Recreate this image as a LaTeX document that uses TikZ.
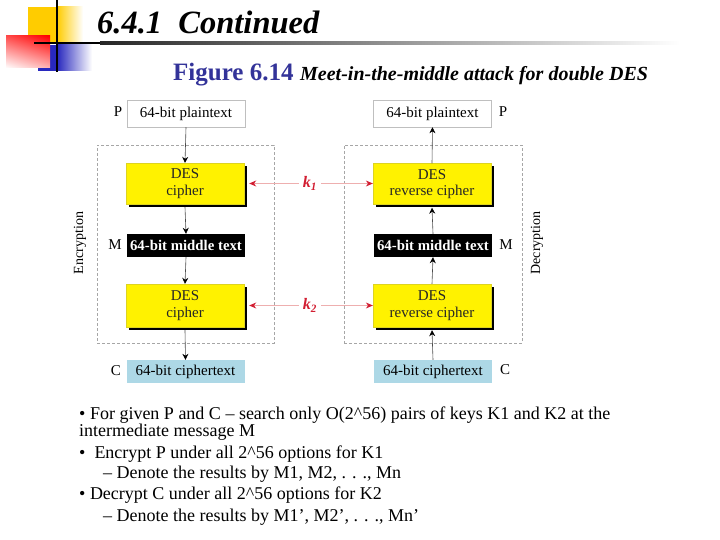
\documentclass[tikz,border=0pt]{standalone}
\usepackage{fontspec}
\setmainfont{Liberation Serif}
\usetikzlibrary{arrows.meta,calc,shadings}
\definecolor{navy}{RGB}{51,51,153}
\definecolor{keyred}{RGB}{210,30,50}
\definecolor{keyline}{RGB}{238,175,175}
\definecolor{ltblue}{RGB}{173,216,230}
\definecolor{gold}{RGB}{255,204,0}
\definecolor{logoblue}{RGB}{40,40,190}
\begin{document}
\begin{tikzpicture}[x=1pt,y=-1pt,
  f15/.style={font=\fontsize{15}{17}\selectfont},
  plainbox/.style={draw=gray!50, line width=0.5pt, fill=white, minimum width=118, minimum height=27, inner sep=0, f15},
  desbox/.style={fill=yellow, draw=yellow!85!black, line width=0.3pt, minimum width=118, minimum height=42, inner sep=0, align=center, font=\fontsize{15}{16.5}\selectfont, text=black!85},
  shadowbox/.style={fill=black, minimum width=118, minimum height=42, inner sep=0},
  midbox/.style={fill=black, text=white, minimum width=118, minimum height=23, inner sep=0, font=\fontsize{14.8}{17}\selectfont\bfseries},
  cbox/.style={fill=ltblue, minimum width=118, minimum height=23, inner sep=0, f15},
  flow/.style={draw=gray!60!black, line width=0.6pt, -{Stealth[length=6pt,width=6pt,color=black]}},
  keyarrow/.style={draw=keyline, line width=0.8pt, -{Stealth[length=7pt,width=6pt,color=keyred]}},
  dashbox/.style={draw=gray!70, dash pattern=on 3pt off 2pt, line width=0.5pt, inner sep=0},
  lbl/.style={f15, inner sep=0},
  sidelbl/.style={font=\fontsize{14}{16}\selectfont, inner sep=0},
  keylbl/.style={text=keyred, font=\fontsize{16}{18}\selectfont\bfseries\itshape, inner sep=0},
  bul/.style={anchor=base west, inner sep=0, font=\fontsize{18}{21}\selectfont}
]
\useasboundingbox (0,0) rectangle (720,540);
% ---------- logo ----------
\fill[logoblue] (38,45) rectangle (57,71);
\shade[left color=logoblue, right color=white] (57,45) rectangle (92,71);
\fill[gold] (28,7) rectangle (57,42);
\shade[left color=gold, right color=white] (57,7) rectangle (83,42);
\shade[upper right=red, upper left=red!70, lower left=white, lower right=red!30] (6,36) rectangle (50,68);
\fill[black] (56,0) rectangle (58,72);
\fill[black] (34,42) rectangle (100,44.3);
\shade[left color=black!85, right color=white] (100,42) rectangle (680,44.3);
% ---------- titles ----------
\node[anchor=base west, inner sep=0, font=\fontsize{32.5}{36}\selectfont\bfseries\itshape] (title) at (97,34) {6.4.1\ \ Continued};
\node[anchor=base west, inner sep=0, text=navy, font=\fontsize{25}{28}\selectfont\bfseries] (fig) at (173,81) {Figure 6.14};
\node[anchor=base west, inner sep=0, font=\fontsize{20}{22}\selectfont\bfseries\itshape] (cap) at (300,81) {Meet-in-the-middle attack for double DES};
% ---------- dashed frames ----------
\node[dashbox, minimum width=177, minimum height=198] (encf) at (185.5,244) {};
\node[dashbox, minimum width=178, minimum height=198] (decf) at (433,244) {};
% ---------- left column ----------
\node[plainbox] (ptL) at (186,113.5) {64-bit plaintext};
\node[shadowbox, minimum height=41] (y1Ls) at (188,186.5) {};
\node[desbox, minimum height=41] (y1L) at (185,183.5) {DES\\cipher};
\node[midbox] (midL) at (186,245.5) {64-bit middle text};
\node[shadowbox, minimum height=43] (y2Ls) at (188,308.5) {};
\node[desbox, minimum height=43] (y2L) at (185,305.5) {DES\\cipher};
\node[cbox] (cL) at (185.5,371.5) {64-bit ciphertext};
% ---------- right column ----------
\node[plainbox] (ptR) at (432.5,113.5) {64-bit plaintext};
\node[shadowbox, minimum height=41] (y1Rs) at (435,187) {};
\node[desbox, minimum height=41] (y1R) at (432,184) {DES\\reverse cipher};
\node[midbox] (midR) at (433,245.5) {64-bit middle text};
\node[shadowbox, minimum height=43] (y2Rs) at (435,308.5) {};
\node[desbox, minimum height=43] (y2R) at (432,305.5) {DES\\reverse cipher};
\node[cbox] (cR) at (433,371.5) {64-bit ciphertext};
% ---------- side labels ----------
\node[lbl] (pL) at (118,112) {P};
\node[lbl] (mL) at (115,245) {M};
\node[lbl] (cLl) at (116,371) {C};
\node[lbl] (pR) at (503,112) {P};
\node[lbl] (mR) at (506,245) {M};
\node[lbl] (cRl) at (505,370) {C};
\node[sidelbl, rotate=90] (enc) at (80,243) {Encryption};
\node[sidelbl, rotate=90] (dec) at (537,243) {Decryption};
% ---------- flow arrows ----------
\draw[flow] (ptL.south) -- (y1L.north);
\draw[flow] (y1Ls.south -| y1L.south) -- (midL.north);
\draw[flow] (midL.south) -- (y2L.north);
\draw[flow] (y2Ls.south -| y2L.south) -- (cL.north);
\draw[flow] (y1R.north) -- (ptR.south);
\draw[flow] (midR.north) -- (y1Rs.south -| y1R.south);
\draw[flow] (y2R.north) -- (midR.south);
\draw[flow] (cR.north) -- (y2Rs.south -| y2R.south);
% ---------- keys ----------
\node[keylbl] (k1) at (310,183.5) {k\textsubscript{1}};
\node[keylbl] (k2) at (310,305.5) {k\textsubscript{2}};
\draw[keyarrow] ([xshift=-4pt]k1.west) -- ([xshift=2pt]y1Ls.east |- k1.west);
\draw[keyarrow] ([xshift=4pt]k1.east) -- (y1R.west |- k1.east);
\draw[keyarrow] ([xshift=-4pt]k2.west) -- ([xshift=2pt]y2Ls.east |- k2.west);
\draw[keyarrow] ([xshift=4pt]k2.east) -- (y2R.west |- k2.east);
% ---------- bullet text ----------
\node[bul] (b1) at (79,419) {• For given P and C – search only O(2\textasciicircum 56) pairs of keys K1 and K2 at the};
\node[bul] (b2) at (79,436) {intermediate message M};
\node[bul] (b3) at (79,458) {•\ \ Encrypt P under all 2\textasciicircum 56 options for K1};
\node[bul] (b4) at (103,478) {– Denote the results by M1, M2, . . ., Mn};
\node[bul] (b5) at (79,499) {• Decrypt C under all 2\textasciicircum 56 options for K2};
\node[bul] (b6) at (103,521) {– Denote the results by M1’, M2’, . . ., Mn’};
\end{tikzpicture}
\end{document}
